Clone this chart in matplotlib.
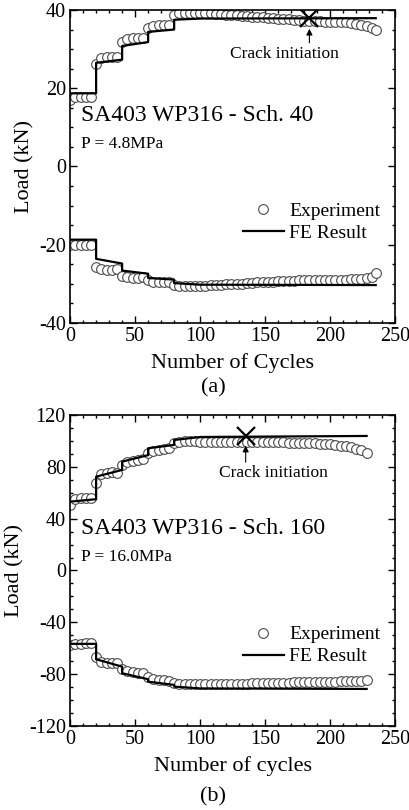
import matplotlib
matplotlib.use("Agg")
import matplotlib.pyplot as plt
from matplotlib.ticker import MultipleLocator

plt.rcParams["font.family"] = ["Liberation Serif", "DejaVu Serif"]
plt.rcParams["axes.unicode_minus"] = False

# ---------------------------------------------------------------------------
# Panel (a): Sch. 40, P = 4.8 MPa
# ---------------------------------------------------------------------------
cyc_a = [0, 4, 8, 12, 16, 20, 24, 28, 32, 36, 40, 44, 48, 52, 56,
         60, 64, 68, 72, 76, 80, 84, 88, 92, 96, 100, 104, 108, 112, 116,
         120, 124, 128, 132, 136, 140, 144, 148, 152, 156, 160, 164, 168, 172, 176,
         180, 184, 188, 192, 196, 200, 204, 208, 212, 216, 220, 224, 228, 232, 235]
exp_a_top = [16.9, 17.8, 17.8, 17.8, 17.8, 26.1, 27.6, 28.0, 28.0, 28.0,
             31.8, 32.7, 32.8, 32.8, 32.8, 35.4, 36.0, 36.1, 36.1, 36.1,
             38.6, 39.2, 39.3, 39.3, 39.3, 39.2, 39.2, 39.1, 39.0, 38.9,
             38.8, 38.7, 38.6, 38.5, 38.4, 38.3, 38.2, 38.1, 38.0, 37.9,
             37.8, 37.7, 37.6, 37.5, 37.4, 37.3, 37.2, 37.2, 37.1, 37.0,
             37.0, 36.9, 36.9, 36.8, 36.7, 36.5, 36.2, 35.8, 35.4, 34.8]
exp_a_bot = [-20.1, -20.1, -20.1, -20.1, -20.1, -25.7, -26.3, -26.5, -26.5, -26.3,
             -27.9, -28.3, -28.4, -28.4, -28.3, -29.1, -29.5, -29.6, -29.6, -29.5,
             -30.2, -30.5, -30.6, -30.6, -30.6, -30.5, -30.5, -30.4, -30.3, -30.2,
             -30.1, -30.0, -30.0, -29.9, -29.8, -29.7, -29.6, -29.5, -29.4, -29.4,
             -29.3, -29.3, -29.2, -29.2, -29.1, -29.1, -29.1, -29.0, -29.0, -29.0,
             -29.0, -28.9, -28.9, -28.9, -28.8, -28.8, -28.7, -28.6, -28.2, -27.2]

fe_a_x = [0, 20, 20, 40, 40, 60, 60, 80, 80, 100, 235]
fe_a_top = [18.7, 18.7, 26.5, 27.3, 30.8, 31.8, 34.4, 35.0, 37.5, 37.8, 37.9]
fe_a_bot = [-18.7, -18.7, -23.6, -24.8, -26.6, -27.4, -28.5, -28.9, -29.8, -30.2, -30.3]

crack_a = (184, 37.9)

# ---------------------------------------------------------------------------
# Panel (b): Sch. 160, P = 16.0 MPa
# ---------------------------------------------------------------------------
cyc_b = [0, 4, 8, 12, 16, 20, 24, 28, 32, 36, 40, 44, 48, 52, 56,
         60, 64, 68, 72, 76, 80, 84, 88, 92, 96, 100, 104, 108, 112, 116,
         120, 124, 128, 132, 136, 140, 144, 148, 152, 156, 160, 164, 168, 172, 176,
         180, 184, 188, 192, 196, 200, 204, 208, 212, 216, 220, 224, 228]
exp_b_top = [50.6, 55.5, 56.0, 56.2, 56.2, 67.8, 74.2, 75.5, 75.8, 75.5,
             81.4, 84.0, 84.8, 85.5, 86.0, 90.4, 92.5, 93.2, 93.8, 94.2,
             98.1, 99.4, 99.6, 99.6, 99.6, 99.5, 99.5, 99.5, 99.5, 99.5,
             99.4, 99.4, 99.4, 99.3, 99.3, 99.2, 99.2, 99.1, 99.0, 99.0,
             98.9, 98.8, 98.7, 98.6, 98.5, 98.4, 98.2, 98.0, 97.8, 97.6,
             97.3, 96.9, 96.4, 95.8, 95.0, 94.0, 92.8, 91.0]
exp_b_bot = [-57.4, -57.0, -56.5, -56.0, -55.8, -67.0, -70.4, -71.2, -71.7, -71.2,
             -76.0, -77.5, -78.2, -78.8, -79.3, -82.4, -83.6, -84.2, -84.6, -85.0,
             -87.0, -87.6, -87.8, -87.8, -87.8, -87.8, -87.8, -87.8, -87.7, -87.7,
             -87.6, -87.6, -87.5, -87.4, -87.3, -87.2, -87.1, -87.0, -86.9, -86.8,
             -86.7, -86.6, -86.5, -86.4, -86.3, -86.2, -86.1, -86.0, -86.0, -85.9,
             -85.8, -85.7, -85.6, -85.5, -85.4, -85.2, -85.0, -84.3]

fe_b_x = [0, 20, 20, 40, 40, 60, 60, 80, 80, 100, 228]
fe_b_top = [53.1, 55.0, 72.4, 77.6, 84.0, 89.0, 94.3, 96.9, 100.7, 103.0, 103.8]
fe_b_bot = [-56.6, -56.6, -68.5, -74.2, -79.3, -83.9, -85.8, -88.3, -89.6, -91.0, -91.4]

crack_b = (135, 103.8)


def draw_panel(ax, cyc, top, bot, fe_x, fe_top, fe_bot, crack, text_xy, arrow_y,
               title, pressure, title_y, p_y, ylim, ymajor, yminor, xlabel, leg_anchor):
    ax.plot(cyc, top, "o", ms=7, mfc="white", mec="#4a4a4a", mew=0.8,
            label="Experiment", zorder=2)
    ax.plot(cyc, bot, "o", ms=7, mfc="white", mec="#4a4a4a", mew=0.8, zorder=2)
    ax.plot(fe_x, fe_top, "-", color="black", lw=1.6, label="FE Result", zorder=3)
    ax.plot(fe_x, fe_bot, "-", color="black", lw=1.6, zorder=3)

    ax.plot(*crack, "x", color="black", ms=13, mew=1.6, zorder=4)
    ax.annotate("", xy=(crack[0], arrow_y[1]), xytext=(crack[0], arrow_y[0]),
                arrowprops=dict(arrowstyle="-|>", color="black", lw=0.8,
                                mutation_scale=9))
    ax.text(text_xy[0], text_xy[1], "Crack initiation", fontsize=12.5,
            ha="center", va="center")

    ax.text(8, title_y, title, fontsize=17, ha="left", va="center")
    ax.text(8, p_y, pressure, fontsize=12.5, ha="left", va="center")

    ax.set_xlim(0, 250)
    ax.set_ylim(*ylim)
    ax.xaxis.set_major_locator(MultipleLocator(50))
    ax.xaxis.set_minor_locator(MultipleLocator(10))
    ax.yaxis.set_major_locator(MultipleLocator(ymajor))
    ax.yaxis.set_minor_locator(MultipleLocator(yminor))
    ax.tick_params(which="both", direction="in", top=True, right=True,
                   labelsize=14.5, width=1.0, pad=3)
    ax.tick_params(which="major", length=5)
    ax.tick_params(which="minor", length=2.5)
    for s in ax.spines.values():
        s.set_linewidth(1.2)
    ax.set_xlabel(xlabel, fontsize=16, labelpad=5)
    ax.set_ylabel("Load (kN)", fontsize=16, labelpad=3)

    ax.legend(loc="upper right", bbox_to_anchor=leg_anchor, frameon=False,
              fontsize=14, handlelength=2.1, handletextpad=0.3,
              labelspacing=0.22, borderpad=0, borderaxespad=0)


fig = plt.figure(figsize=(4.1, 8.1), dpi=100)
ax_a = fig.add_axes([0.171, 0.6012, 0.793, 0.3865])
ax_b = fig.add_axes([0.171, 0.1037, 0.793, 0.384])

draw_panel(ax_a, cyc_a, exp_a_top, exp_a_bot, fe_a_x, fe_a_top, fe_a_bot,
           crack_a, (165, 28.7), (30.9, 35.9),
           "SA403 WP316 - Sch. 40", "P = 4.8MPa", 13.0, 5.8,
           (-40, 40), 20, 5, "Number of Cycles", (0.955, 0.385))
draw_panel(ax_b, cyc_b, exp_b_top, exp_b_bot, fe_b_x, fe_b_top, fe_b_bot,
           crack_b, (156, 75.5), (81.4, 98.5),
           "SA403 WP316 - Sch. 160", "P = 16.0MPa", 32.6, 10.7,
           (-120, 120), 40, 10, "Number of cycles", (0.955, 0.322))

fig.text(213 / 410, 1 - 388 / 810, "(a)", fontsize=16, ha="center", va="center")
fig.text(213 / 410, 1 - 797 / 810, "(b)", fontsize=16, ha="center", va="center")

fig.savefig("out.png", dpi=100)
